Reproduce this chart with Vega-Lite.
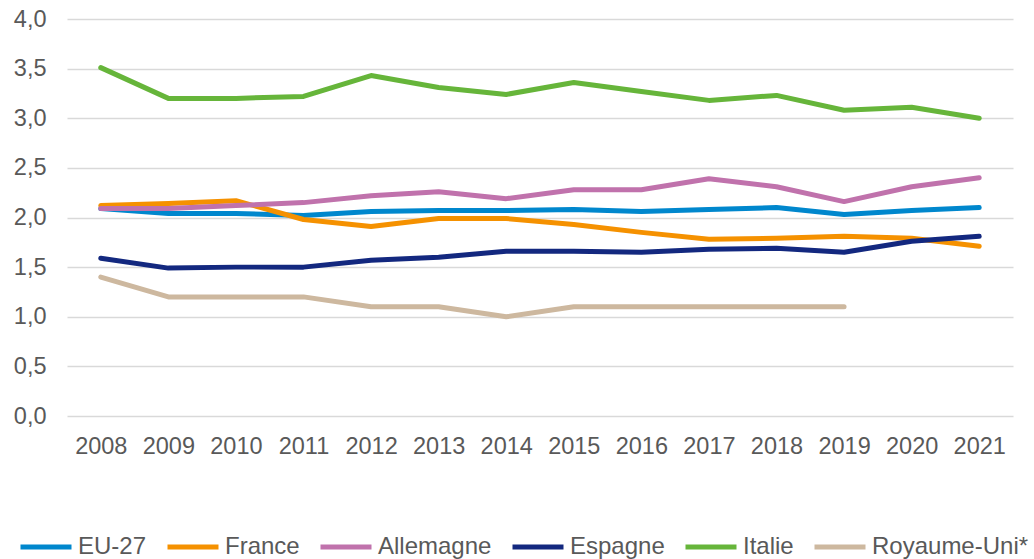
{
  "$schema": "https://vega.github.io/schema/vega-lite/v6.json",
  "width": 946,
  "height": 397,
  "autosize": {"type": "none"},
  "padding": {"left": 67, "top": 19, "right": 21, "bottom": 143},
  "background": "white",
  "config": {
    "view": {"stroke": null},
    "font": "Liberation Sans",
    "axis": {"labelFont": "Liberation Sans", "labelColor": "#595959", "labelFontSize": 23.5},
    "legend": {"labelFont": "Liberation Sans", "labelColor": "#595959", "labelFontSize": 24}
  },
  "data": {
    "values": [
      {"year": "2008", "country": "EU-27", "value": 2.09},
      {"year": "2009", "country": "EU-27", "value": 2.04},
      {"year": "2010", "country": "EU-27", "value": 2.04},
      {"year": "2011", "country": "EU-27", "value": 2.02},
      {"year": "2012", "country": "EU-27", "value": 2.06},
      {"year": "2013", "country": "EU-27", "value": 2.07},
      {"year": "2014", "country": "EU-27", "value": 2.07},
      {"year": "2015", "country": "EU-27", "value": 2.08},
      {"year": "2016", "country": "EU-27", "value": 2.06},
      {"year": "2017", "country": "EU-27", "value": 2.08},
      {"year": "2018", "country": "EU-27", "value": 2.10},
      {"year": "2019", "country": "EU-27", "value": 2.03},
      {"year": "2020", "country": "EU-27", "value": 2.07},
      {"year": "2021", "country": "EU-27", "value": 2.10},
      {"year": "2008", "country": "France", "value": 2.12},
      {"year": "2009", "country": "France", "value": 2.14},
      {"year": "2010", "country": "France", "value": 2.17},
      {"year": "2011", "country": "France", "value": 1.98},
      {"year": "2012", "country": "France", "value": 1.91},
      {"year": "2013", "country": "France", "value": 1.99},
      {"year": "2014", "country": "France", "value": 1.99},
      {"year": "2015", "country": "France", "value": 1.93},
      {"year": "2016", "country": "France", "value": 1.85},
      {"year": "2017", "country": "France", "value": 1.78},
      {"year": "2018", "country": "France", "value": 1.79},
      {"year": "2019", "country": "France", "value": 1.81},
      {"year": "2020", "country": "France", "value": 1.79},
      {"year": "2021", "country": "France", "value": 1.71},
      {"year": "2008", "country": "Allemagne", "value": 2.09},
      {"year": "2009", "country": "Allemagne", "value": 2.09},
      {"year": "2010", "country": "Allemagne", "value": 2.12},
      {"year": "2011", "country": "Allemagne", "value": 2.15},
      {"year": "2012", "country": "Allemagne", "value": 2.22},
      {"year": "2013", "country": "Allemagne", "value": 2.26},
      {"year": "2014", "country": "Allemagne", "value": 2.19},
      {"year": "2015", "country": "Allemagne", "value": 2.28},
      {"year": "2016", "country": "Allemagne", "value": 2.28},
      {"year": "2017", "country": "Allemagne", "value": 2.39},
      {"year": "2018", "country": "Allemagne", "value": 2.31},
      {"year": "2019", "country": "Allemagne", "value": 2.16},
      {"year": "2020", "country": "Allemagne", "value": 2.31},
      {"year": "2021", "country": "Allemagne", "value": 2.40},
      {"year": "2008", "country": "Espagne", "value": 1.59},
      {"year": "2009", "country": "Espagne", "value": 1.49},
      {"year": "2010", "country": "Espagne", "value": 1.50},
      {"year": "2011", "country": "Espagne", "value": 1.50},
      {"year": "2012", "country": "Espagne", "value": 1.57},
      {"year": "2013", "country": "Espagne", "value": 1.60},
      {"year": "2014", "country": "Espagne", "value": 1.66},
      {"year": "2015", "country": "Espagne", "value": 1.66},
      {"year": "2016", "country": "Espagne", "value": 1.65},
      {"year": "2017", "country": "Espagne", "value": 1.68},
      {"year": "2018", "country": "Espagne", "value": 1.69},
      {"year": "2019", "country": "Espagne", "value": 1.65},
      {"year": "2020", "country": "Espagne", "value": 1.76},
      {"year": "2021", "country": "Espagne", "value": 1.81},
      {"year": "2008", "country": "Italie", "value": 3.51},
      {"year": "2009", "country": "Italie", "value": 3.20},
      {"year": "2010", "country": "Italie", "value": 3.20},
      {"year": "2011", "country": "Italie", "value": 3.22},
      {"year": "2012", "country": "Italie", "value": 3.43},
      {"year": "2013", "country": "Italie", "value": 3.31},
      {"year": "2014", "country": "Italie", "value": 3.24},
      {"year": "2015", "country": "Italie", "value": 3.36},
      {"year": "2016", "country": "Italie", "value": 3.27},
      {"year": "2017", "country": "Italie", "value": 3.18},
      {"year": "2018", "country": "Italie", "value": 3.23},
      {"year": "2019", "country": "Italie", "value": 3.08},
      {"year": "2020", "country": "Italie", "value": 3.11},
      {"year": "2021", "country": "Italie", "value": 3.00},
      {"year": "2008", "country": "Royaume-Uni*", "value": 1.4},
      {"year": "2009", "country": "Royaume-Uni*", "value": 1.2},
      {"year": "2010", "country": "Royaume-Uni*", "value": 1.2},
      {"year": "2011", "country": "Royaume-Uni*", "value": 1.2},
      {"year": "2012", "country": "Royaume-Uni*", "value": 1.1},
      {"year": "2013", "country": "Royaume-Uni*", "value": 1.1},
      {"year": "2014", "country": "Royaume-Uni*", "value": 1.0},
      {"year": "2015", "country": "Royaume-Uni*", "value": 1.1},
      {"year": "2016", "country": "Royaume-Uni*", "value": 1.1},
      {"year": "2017", "country": "Royaume-Uni*", "value": 1.1},
      {"year": "2018", "country": "Royaume-Uni*", "value": 1.1},
      {"year": "2019", "country": "Royaume-Uni*", "value": 1.1}
    ]
  },
  "mark": {"type": "line", "strokeWidth": 5, "strokeCap": "round", "strokeJoin": "round"},
  "encoding": {
    "x": {
      "field": "year",
      "type": "ordinal",
      "scale": {"type": "point", "padding": 0.5},
      "axis": {"title": null, "labelAngle": 0, "domain": false, "ticks": false, "labelPadding": 18, "grid": false}
    },
    "y": {
      "field": "value",
      "type": "quantitative",
      "scale": {"domain": [0, 4], "nice": false, "zero": true},
      "axis": {
        "title": null,
        "values": [0, 0.5, 1, 1.5, 2, 2.5, 3, 3.5, 4],
        "labelExpr": "replace(format(datum.value, '.1f'), '.', ',')",
        "domain": false,
        "ticks": false,
        "labelPadding": 21,
        "grid": true,
        "gridColor": "#D9D9D9",
        "gridWidth": 1.5
      }
    },
    "color": {
      "field": "country",
      "type": "nominal",
      "scale": {
        "domain": ["EU-27", "France", "Allemagne", "Espagne", "Italie", "Royaume-Uni*"],
        "range": ["#0087CD", "#F59100", "#C072AC", "#13287F", "#66B53A", "#CDB89F"]
      },
      "legend": {
        "title": null,
        "orient": "none",
        "direction": "horizontal",
        "legendX": -49,
        "legendY": 500,
        "symbolType": "stroke",
        "symbolSize": 2601,
        "symbolStrokeWidth": 5,
        "labelOffset": 4,
        "columnPadding": 10
      }
    }
  }
}
